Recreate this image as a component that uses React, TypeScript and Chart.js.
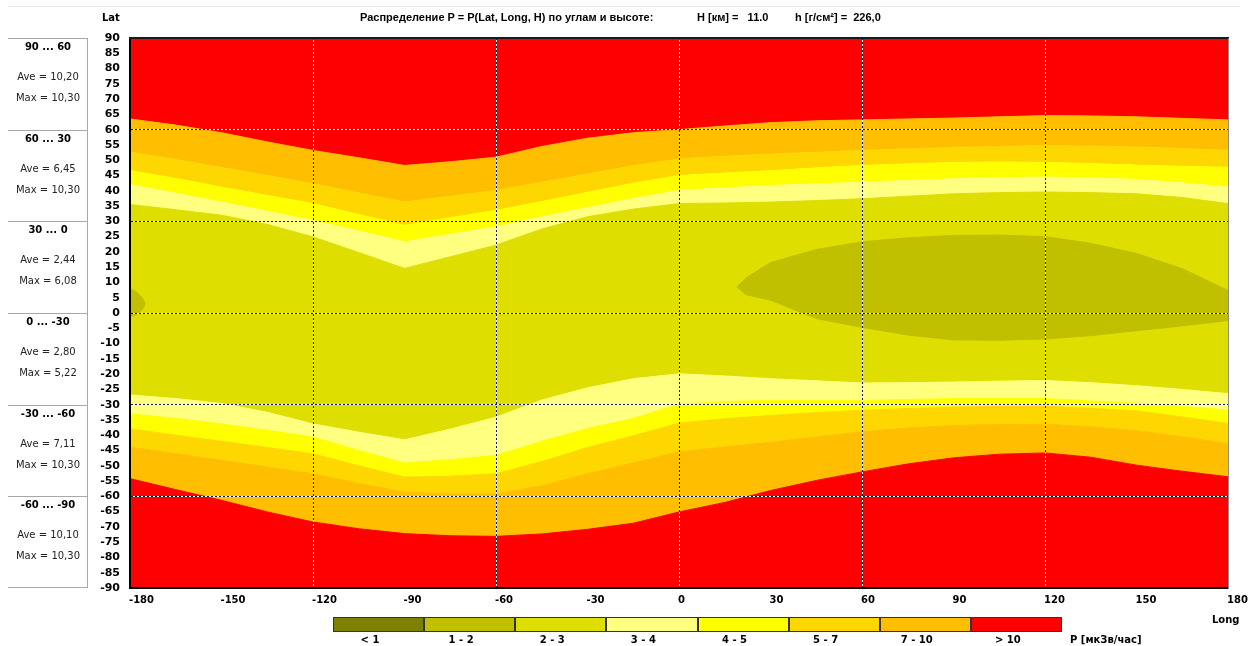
import React, { useEffect, useRef } from "react";
import { Chart, registerables } from "chart.js";

Chart.register(...registerables);

// ---- DATA ----
const LONGS = [-180, -165, -150, -135, -120, -105, -90, -75, -60, -45, -30, -15, 0, 15, 30, 45, 60, 75, 90, 105, 120, 135, 150, 165, 180];

// northern boundaries (latitude of band edge at each longitude)
const N_RED = [63.5, 61.5, 59, 56, 53.2, 50.8, 48.3, 49.5, 51, 54.5, 57.2, 59, 60, 61.2, 62.3, 62.9, 63.2, 63.5, 63.8, 64.2, 64.6, 64.5, 64.2, 63.7, 63.2];
const N_ORANGE = [52.6, 50.2, 47.6, 45, 42.3, 39.3, 36.3, 38.2, 40.1, 42.8, 45.5, 48.2, 50.4, 51.3, 52, 52.6, 53.2, 53.7, 54.2, 54.5, 54.8, 54.6, 54.3, 53.8, 53.2];
const N_GOLD = [46.6, 44, 41.2, 38.5, 35.8, 32.2, 28.7, 31.2, 33.6, 36.5, 39.5, 42.5, 45, 45.8, 46.6, 47.5, 48.3, 48.8, 49.3, 49.4, 49.3, 48.9, 48.4, 48, 47.7];
const N_YELLOW = [42, 39.2, 36.3, 33.3, 30.3, 26.8, 23.3, 25.8, 28.2, 31.5, 34.5, 37.5, 40.1, 41, 41.7, 42.3, 42.8, 43.4, 43.9, 44.3, 44.5, 44.2, 43.7, 42.6, 41.2];
const N_LIGHT = [35.5, 33.8, 32, 29, 24.9, 19.8, 14.6, 18.4, 22.2, 27.5, 31.5, 34, 35.8, 36, 36.3, 36.8, 37.4, 38.2, 39, 39.4, 39.6, 39.4, 39, 37.8, 35.8];

// southern boundaries
const S_LIGHT = [-26.8, -28, -29.6, -32.5, -36.3, -39, -41.5, -38, -34.1, -28.5, -24.5, -21.5, -19.9, -20.6, -21.5, -22.2, -22.9, -22.8, -22.6, -22.3, -22.1, -22.8, -23.8, -25, -26.4];
const S_YELLOW = [-33, -34.5, -36.3, -38.4, -40.6, -45, -49.1, -48, -46.6, -42, -37.8, -34.5, -29.8, -29, -28.6, -28.6, -28.6, -28.3, -28, -28, -28, -28.8, -29.5, -30.5, -31.8];
const S_GOLD = [-37.9, -40, -42, -44, -46.1, -50, -53.7, -53.4, -52.6, -48.6, -44, -40.2, -36, -34.6, -33.5, -32.6, -31.8, -31.3, -30.8, -30.6, -30.5, -31.2, -32, -34, -36.2];
const S_ORANGE = [-43.9, -46, -48.2, -50.4, -52.6, -55.8, -58.6, -59.2, -59.2, -56.5, -52.6, -49, -45.4, -43.8, -42.3, -40.5, -38.9, -37.6, -36.8, -36.5, -36.4, -37.2, -38.5, -40.5, -42.7];
const S_RED = [-54.2, -57.8, -61.3, -65.1, -68.4, -70.6, -72.2, -72.9, -73.1, -72.3, -70.8, -68.8, -65.1, -62, -58.1, -54.8, -52, -49.4, -47.4, -46.2, -45.8, -47.2, -49.8, -51.8, -53.6];

// low-dose (1 - 2) oval in the east
const OVAL_LONGS = [19, 22, 30, 45, 60, 75, 90, 105, 120, 135, 150, 165, 180];
const OVAL_TOP = [8.5, 11.5, 16.5, 20.8, 23.3, 24.6, 25.4, 25.5, 25, 22.8, 19.5, 14.5, 7.4];
const OVAL_BOTTOM = [8.5, 6, 4.2, -1.8, -4.7, -7.2, -8.8, -8.9, -8.5, -7.4, -5.8, -4.2, -2.5];

// small spot at the western edge
const SPOT_LONGS = [-180, -178, -176, -175];
const SPOT_TOP = [8, 7, 5, 3];
const SPOT_BOTTOM = [-1.5, -0.5, 1, 3];

const BAND_LABELS = ["< 1", "1 - 2", "2 - 3", "3 - 4", "4 - 5", "5 - 7", "7 - 10", "> 10"];
const BAND_COLORS = ["#808000", "#c0c000", "#dede00", "#ffff80", "#ffff00", "#ffd700", "#ffbf00", "#ff0000"];

const ZONE_LABELS = ["90 ... 60", "60 ... 30", "30 ... 0", "0 ... -30", "-30 ... -60", "-60 ... -90"];
const ZONE_AVE = ["10,20", "6,45", "2,44", "2,80", "7,11", "10,10"];
const ZONE_MAX = ["10,30", "10,30", "6,08", "5,22", "10,30", "10,30"];

const TITLE_MAIN = "Распределение P = P(Lat, Long, H) по углам и высоте:";
const TITLE_H = "H [км] =   11.0";
const TITLE_HG = "h [г/см\u00B2] =  226,0";

// ---- CHART ----
const pts = (xs: number[], ys: number[]) => xs.map((x, i) => ({ x, y: ys[i] }));

function band(xs: number[], ys: number[], fill: any, color: string) {
  return {
    data: pts(xs, ys),
    fill,
    backgroundColor: color,
    borderColor: color,
    borderWidth: 1,
    pointRadius: 0,
    tension: 0,
    xAxisID: "x",
    yAxisID: "y",
  };
}

const X_TICK_FONT = { family: "'DejaVu Sans', sans-serif", size: 10, weight: "bold" as const };
const Y_TICK_FONT = { family: "'DejaVu Sans', sans-serif", size: 11, weight: "bold" as const };

const majorX = (v: number) => v % 60 === 0 && Math.abs(v) !== 180;
const majorY = (v: number) => v % 30 === 0 && Math.abs(v) !== 90;

export default function App() {
  const ref = useRef<HTMLCanvasElement>(null);

  useEffect(() => {
    const [, c12, c23, c34, c45, c57, c710, cHigh] = BAND_COLORS;
    const datasets = [
      band(OVAL_LONGS, OVAL_BOTTOM, false, c12),
      band(OVAL_LONGS, OVAL_TOP, "-1", c12),
      band(SPOT_LONGS, SPOT_BOTTOM, false, c12),
      band(SPOT_LONGS, SPOT_TOP, "-1", c12),
      band(LONGS, S_RED, "start", cHigh),
      band(LONGS, S_ORANGE, "-1", c710),
      band(LONGS, S_GOLD, "-1", c57),
      band(LONGS, S_YELLOW, "-1", c45),
      band(LONGS, S_LIGHT, "-1", c34),
      band(LONGS, N_LIGHT, "-1", c23),
      band(LONGS, N_YELLOW, "-1", c34),
      band(LONGS, N_GOLD, "-1", c45),
      band(LONGS, N_ORANGE, "-1", c57),
      band(LONGS, N_RED, "-1", c710),
      band(LONGS, N_RED, "end", cHigh),
    ];

    const chart = new Chart(ref.current as HTMLCanvasElement, {
      type: "line",
      data: { datasets: datasets as any },
      options: {
        responsive: false,
        animation: false,
        events: [],
        layout: { padding: { left: 90, top: 38, right: 20, bottom: 28 } },
        plugins: {
          legend: { display: false },
          tooltip: { enabled: false },
          title: { display: false },
        },
        scales: {
          x: {
            type: "linear",
            axis: "x",
            position: "bottom",
            min: -180,
            max: 180,
            afterFit: (s: any) => { s.height = 30; s.paddingLeft = 0; s.paddingRight = 0; },
            ticks: {
              stepSize: 30,
              autoSkip: false,
              maxRotation: 0,
              align: "start",
              labelOffset: -1,
              padding: 6,
              color: "#000",
              font: X_TICK_FONT,
            },
            grid: {
              color: (ctx: any) => (majorX(ctx.tick.value) ? "#1a1a1a" : "rgba(0,0,0,0)"),
              lineWidth: 1,
              drawTicks: false,
              z: 2,
            },
            border: { display: true, color: "#000", width: 2, dash: [2, 2], z: 3 },
          },
          y: {
            type: "linear",
            axis: "y",
            position: "left",
            min: -90,
            max: 90,
            afterFit: (s: any) => { s.width = 40; s.paddingTop = 0; s.paddingBottom = 0; },
            ticks: {
              stepSize: 5,
              autoSkip: false,
              padding: 10,
              color: "#000",
              font: Y_TICK_FONT,
            },
            grid: {
              color: (ctx: any) => (majorY(ctx.tick.value) ? "#1a1a1a" : "rgba(0,0,0,0)"),
              lineWidth: 1,
              drawTicks: false,
              z: 2,
            },
            border: { display: true, color: "#000", width: 2, dash: [2, 2], z: 3 },
          },
          xTop: {
            type: "linear",
            axis: "x",
            position: "top",
            min: -180,
            max: 180,
            afterFit: (s: any) => { s.height = 0; s.paddingLeft = 0; s.paddingRight = 0; },
            ticks: { display: false, stepSize: 60 },
            grid: {
              color: (ctx: any) => (majorX(ctx.tick.value) ? "#ffffff" : "rgba(0,0,0,0)"),
              lineWidth: 1,
              drawTicks: false,
              z: 1,
            },
            border: { display: true, color: "#1a1a1a", width: 2, z: 3 },
          },
          yRight: {
            type: "linear",
            axis: "y",
            position: "right",
            min: -90,
            max: 90,
            afterFit: (s: any) => { s.width = 0; s.paddingTop = 0; s.paddingBottom = 0; },
            ticks: { display: false, stepSize: 30 },
            grid: {
              color: (ctx: any) => (majorY(ctx.tick.value) ? "#ffffff" : "rgba(0,0,0,0)"),
              lineWidth: 1,
              drawTicks: false,
              z: 1,
            },
            border: { display: true, color: "#8a8a8a", width: 1, z: 3 },
          },
        } as any,
      },
    });
    return () => chart.destroy();
  }, []);

  const zoneTop = 38;
  const zoneH = 550 / 6;
  const legendLeft = 333;
  const legendW = 729 / 8;

  return (
    <div
      style={{
        position: "absolute",
        left: 0,
        top: 0,
        width: 1248,
        height: 646,
        background: "#fff",
        overflow: "hidden",
        fontFamily: "'DejaVu Sans', sans-serif",
        color: "#000",
      }}
    >
      <div style={{ position: "absolute", left: 8, top: 6, width: 1232, height: 1, background: "#e8e8e8" }} />
      <canvas
        ref={ref}
        width={1248}
        height={646}
        style={{ position: "absolute", left: 0, top: 0, width: 1248, height: 646 }}
      />

      {/* title */}
      <div style={{ position: "absolute", left: 360, top: 11, fontFamily: "'Liberation Sans', Arial, sans-serif", fontWeight: "bold", fontSize: 11, whiteSpace: "pre" }}>
        {TITLE_MAIN}
      </div>
      <div style={{ position: "absolute", left: 697, top: 11, fontFamily: "'Liberation Sans', Arial, sans-serif", fontWeight: "bold", fontSize: 11, whiteSpace: "pre" }}>
        {TITLE_H}
      </div>
      <div style={{ position: "absolute", left: 795, top: 11, fontFamily: "'Liberation Sans', Arial, sans-serif", fontWeight: "bold", fontSize: 11, whiteSpace: "pre" }}>
        {TITLE_HG}
      </div>

      <div style={{ position: "absolute", left: 102, top: 12, fontWeight: "bold", fontSize: 10 }}>Lat</div>
      <div style={{ position: "absolute", left: 1212, top: 614, fontWeight: "bold", fontSize: 10 }}>Long</div>

      {/* left zone panel */}
      {ZONE_LABELS.map((lab, i) => (
        <div
          key={lab}
          style={{
            position: "absolute",
            left: 8,
            top: zoneTop + i * zoneH,
            width: 80,
            height: zoneH,
            borderTop: "1px solid #a8a8a8",
            borderRight: "1px solid #a8a8a8",
            borderBottom: i === ZONE_LABELS.length - 1 ? "1px solid #a8a8a8" : "none",
            boxSizing: "border-box",
            fontSize: 10,
          }}
        >
          <div style={{ position: "absolute", left: 0, width: 80, top: 2, textAlign: "center", fontWeight: "bold" }}>{lab}</div>
          <div style={{ position: "absolute", left: 0, width: 80, top: 32, textAlign: "center", color: "#222" }}>{"Ave = " + ZONE_AVE[i]}</div>
          <div style={{ position: "absolute", left: 0, width: 80, top: 53, textAlign: "center", color: "#222" }}>{"Max = " + ZONE_MAX[i]}</div>
        </div>
      ))}

      {/* colour legend */}
      {BAND_LABELS.map((lab, i) => (
        <React.Fragment key={lab}>
          <div
            style={{
              position: "absolute",
              left: legendLeft + i * legendW,
              top: 617,
              width: legendW,
              height: 15,
              background: BAND_COLORS[i],
              border: "1px solid #333",
              boxSizing: "border-box",
            }}
          />
          <div
            style={{
              position: "absolute",
              left: legendLeft + i * legendW + 37 - 30,
              width: 60,
              top: 634,
              textAlign: "center",
              fontWeight: "bold",
              fontSize: 10,
            }}
          >
            {lab}
          </div>
        </React.Fragment>
      ))}
      <div style={{ position: "absolute", left: 1070, top: 634, fontWeight: "bold", fontSize: 10, whiteSpace: "pre" }}>
        P [мкЗв/час]
      </div>
    </div>
  );
}
